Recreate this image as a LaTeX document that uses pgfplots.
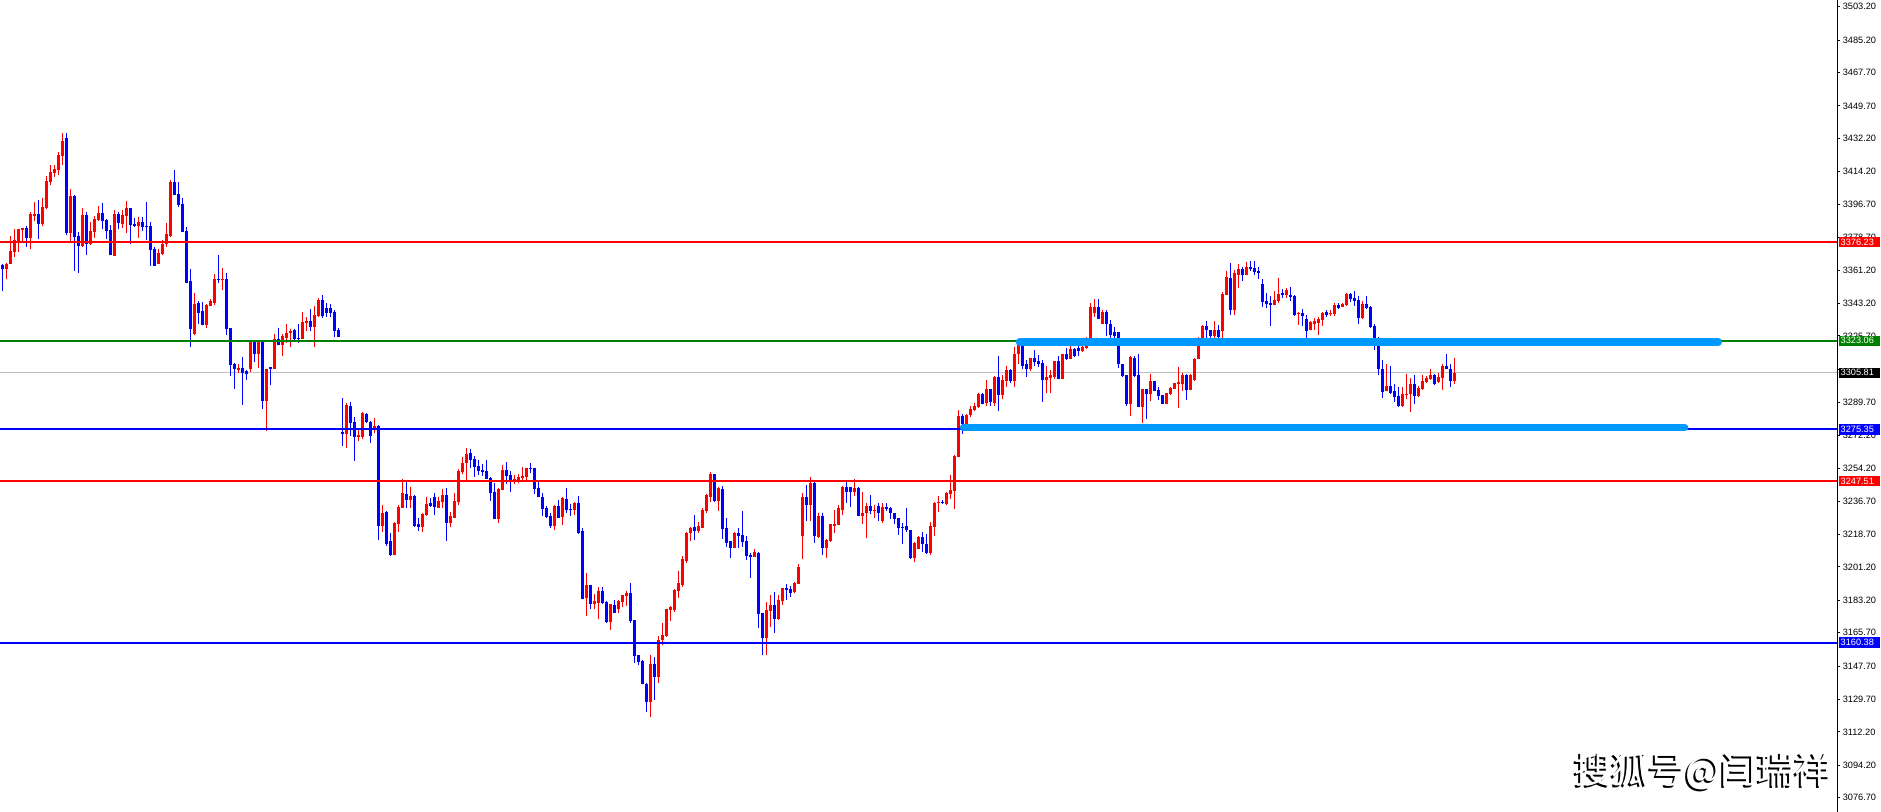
\documentclass[border=0pt]{standalone}
\usepackage{fontspec}
\setmainfont{Liberation Sans}
\newfontfamily\cjk{Noto Sans CJK SC}
\usepackage{pgfplots}
\usepackage{pgfplotstable}
\pgfplotsset{compat=1.18}
\definecolor{cred}{RGB}{255,0,0}
\definecolor{cblue}{RGB}{0,0,255}
\definecolor{cgreen}{RGB}{0,128,0}
\definecolor{cgrey}{RGB}{192,192,192}
\definecolor{lblue}{RGB}{0,153,255}
\newcommand\tickfont{\fontsize{4.6}{5}\selectfont}

\pgfplotstableread{
O H L C
3363.8 3364.7 3349.9 3362.0
3361.7 3365.1 3356.2 3364.7
3364.3 3379.5 3364.3 3371.4
3371.0 3383.2 3368.3 3377.3
3376.4 3383.4 3371.0 3383.4
3382.7 3384.0 3376.4 3383.8
3384.0 3384.9 3373.7 3378.6
3378.6 3392.4 3372.4 3391.3
3390.3 3397.8 3387.7 3391.7
3391.7 3398.9 3377.8 3386.3
3385.9 3400.2 3384.9 3395.1
3394.4 3411.9 3393.9 3409.2
3408.8 3417.6 3407.0 3414.2
3413.7 3417.8 3411.5 3415.6
3415.1 3425.0 3412.6 3423.2
3422.8 3435.1 3417.8 3430.8
3432.4 3435.1 3380.0 3381.3
3381.3 3404.7 3376.4 3401.1
3401.1 3401.6 3360.6 3379.1
3379.5 3381.8 3359.7 3374.2
3374.2 3394.4 3373.7 3390.8
3390.8 3392.6 3369.2 3375.5
3375.1 3387.2 3374.6 3382.2
3381.8 3390.3 3378.6 3388.6
3388.1 3395.7 3387.7 3392.2
3392.2 3397.5 3383.2 3387.7
3388.1 3389.0 3377.7 3382.3
3382.7 3385.4 3369.2 3369.2
3368.8 3393.5 3368.7 3391.3
3391.3 3392.6 3383.2 3386.7
3386.3 3393.5 3384.0 3390.8
3390.4 3398.5 3381.4 3394.4
3394.4 3394.9 3375.1 3385.4
3385.9 3389.5 3384.5 3384.9
3384.9 3389.9 3378.6 3387.0
3387.0 3389.9 3382.2 3384.2
3384.9 3398.0 3377.3 3384.2
3385.1 3387.0 3363.4 3371.9
3372.4 3373.7 3363.4 3363.4
3364.3 3372.4 3364.3 3370.6
3369.7 3377.3 3369.2 3375.1
3375.1 3386.7 3373.7 3380.5
3379.5 3409.7 3379.1 3408.8
3408.8 3415.1 3401.6 3401.6
3402.2 3408.8 3395.3 3396.2
3396.7 3399.8 3381.8 3381.8
3382.2 3384.5 3354.3 3354.4
3355.2 3361.6 3319.7 3329.3
3326.9 3349.0 3326.0 3342.7
3343.6 3344.5 3331.9 3338.2
3339.1 3344.0 3331.4 3331.4
3331.4 3342.7 3330.0 3342.2
3341.7 3345.4 3341.7 3344.5
3343.5 3358.9 3342.6 3356.2
3356.2 3369.2 3354.4 3355.7
3355.7 3362.5 3350.3 3356.6
3356.6 3359.8 3326.4 3329.3
3330.2 3330.2 3304.1 3309.8
3310.4 3311.1 3297.2 3308.0
3307.5 3310.7 3305.7 3308.4
3308.4 3314.3 3288.6 3305.7
3306.8 3307.1 3302.1 3305.0
3308.0 3323.3 3306.2 3323.3
3323.3 3323.3 3311.6 3315.7
3315.7 3323.3 3308.4 3322.4
3322.4 3322.4 3286.4 3290.5
3290.5 3308.0 3274.3 3308.0
3308.9 3308.9 3299.0 3308.0
3308.0 3326.9 3308.0 3324.2
3324.2 3330.2 3320.6 3320.6
3320.6 3326.9 3314.7 3325.5
3324.7 3331.9 3322.0 3327.4
3327.4 3329.2 3319.7 3328.3
3328.7 3329.2 3323.3 3324.2
3324.6 3331.9 3321.9 3323.9
3323.9 3338.6 3323.9 3333.2
3332.7 3335.9 3328.3 3333.8
3333.8 3340.0 3328.2 3330.5
3330.5 3341.7 3319.7 3336.8
3336.3 3346.4 3335.9 3345.3
3344.9 3347.6 3335.4 3336.3
3341.0 3343.6 3335.9 3338.2
3341.0 3342.7 3335.9 3338.1
3338.6 3339.5 3325.1 3328.3
3328.7 3330.2 3325.1 3325.1
3273.7 3292.1 3266.5 3272.7
3272.7 3289.4 3265.5 3288.5
3288.0 3290.3 3271.8 3278.6
3279.1 3282.2 3258.4 3271.4
3271.4 3275.9 3269.1 3272.3
3271.4 3284.9 3270.1 3284.0
3283.6 3284.0 3278.6 3279.1
3279.5 3279.9 3268.2 3271.8
3275.9 3281.7 3273.2 3277.2
3277.2 3277.7 3215.6 3223.3
3223.3 3234.5 3220.1 3230.5
3230.9 3231.3 3212.5 3213.8
3215.1 3219.6 3207.0 3207.5
3207.5 3225.5 3207.5 3224.6
3224.2 3234.5 3220.1 3233.6
3232.7 3248.5 3232.7 3240.8
3240.4 3247.1 3233.1 3237.2
3237.2 3244.0 3232.7 3239.4
3239.5 3239.9 3222.8 3223.3
3224.2 3227.3 3220.6 3222.8
3222.8 3230.0 3220.1 3229.6
3229.1 3238.6 3228.6 3235.0
3235.4 3238.1 3233.6 3234.0
3239.0 3240.8 3229.1 3233.6
3233.2 3239.0 3233.1 3236.7
3236.3 3243.1 3232.7 3239.9
3239.9 3243.5 3215.2 3225.0
3225.0 3230.9 3222.8 3228.6
3227.8 3240.8 3227.3 3236.7
3236.3 3253.8 3234.5 3253.0
3252.1 3260.6 3251.1 3257.4
3257.0 3265.3 3248.0 3262.0
3262.4 3264.7 3254.3 3258.8
3259.3 3261.0 3249.8 3255.2
3255.7 3258.8 3250.7 3253.0
3253.4 3256.5 3250.2 3252.5
3253.0 3258.8 3248.5 3248.5
3248.9 3249.4 3236.8 3240.8
3241.3 3246.6 3226.9 3226.9
3226.9 3243.5 3225.0 3243.1
3242.6 3256.1 3242.6 3253.4
3253.4 3257.7 3245.8 3250.2
3250.7 3252.9 3241.7 3246.7
3246.7 3250.7 3245.7 3248.4
3248.0 3251.2 3246.2 3249.8
3248.9 3254.8 3248.0 3250.2
3249.4 3254.7 3247.1 3254.3
3254.3 3257.0 3251.6 3253.9
3254.3 3254.7 3240.3 3243.1
3243.9 3248.0 3238.6 3238.6
3239.0 3241.2 3228.6 3232.3
3233.1 3234.1 3227.8 3228.2
3228.6 3230.4 3221.9 3223.2
3223.3 3234.5 3221.0 3234.1
3234.1 3237.2 3227.8 3227.8
3228.2 3239.0 3223.7 3238.1
3237.7 3243.5 3230.4 3231.8
3232.3 3234.9 3228.6 3231.8
3231.8 3236.3 3229.1 3235.4
3235.4 3239.4 3218.8 3219.2
3220.5 3222.4 3183.7 3184.1
3184.5 3198.1 3174.6 3191.3
3191.3 3191.3 3178.7 3181.4
3181.4 3186.8 3178.3 3182.8
3181.8 3190.4 3172.9 3188.1
3188.1 3190.4 3181.4 3181.8
3182.3 3182.8 3171.0 3171.5
3171.5 3181.4 3167.0 3181.0
3180.5 3183.2 3176.4 3176.5
3178.3 3183.2 3176.5 3182.8
3182.3 3186.3 3179.6 3185.9
3185.5 3188.1 3180.0 3187.3
3187.3 3192.6 3171.0 3172.0
3172.4 3172.8 3149.4 3153.0
3153.5 3153.5 3148.1 3149.9
3150.3 3150.8 3137.8 3137.8
3138.2 3138.6 3122.9 3128.3
3128.3 3153.5 3120.2 3149.0
3149.0 3152.6 3129.7 3141.8
3141.8 3163.8 3138.6 3162.0
3161.6 3171.1 3158.9 3164.7
3163.8 3178.7 3163.4 3178.3
3177.8 3180.1 3172.0 3179.6
3178.2 3189.5 3176.9 3188.6
3188.2 3199.0 3184.5 3192.6
3191.3 3207.0 3190.4 3205.2
3204.4 3220.1 3203.5 3219.7
3219.6 3222.8 3215.2 3222.3
3222.8 3229.1 3215.6 3220.6
3220.6 3225.5 3219.6 3223.3
3222.4 3233.2 3221.9 3231.8
3231.3 3240.4 3230.5 3239.9
3239.0 3252.5 3236.3 3251.2
3251.2 3251.2 3236.3 3236.8
3236.8 3244.4 3231.4 3243.5
3243.1 3244.8 3216.0 3221.5
3221.9 3227.3 3212.0 3214.3
3215.1 3215.2 3206.1 3211.6
3211.6 3220.1 3211.5 3219.2
3219.2 3222.4 3211.5 3217.9
3218.3 3231.3 3212.0 3214.7
3215.1 3217.8 3204.8 3207.1
3207.5 3208.9 3195.3 3206.6
3206.6 3210.6 3206.6 3209.3
3208.9 3209.3 3168.3 3176.0
3176.1 3176.5 3153.6 3162.6
3162.6 3182.4 3153.6 3177.9
3177.5 3186.0 3168.9 3180.6
3180.6 3187.8 3165.8 3173.0
3173.0 3186.0 3172.5 3183.3
3182.9 3190.0 3180.6 3189.6
3189.6 3191.9 3183.3 3188.7
3189.2 3190.9 3185.1 3187.3
3187.4 3193.2 3186.9 3192.3
3192.0 3202.7 3192.0 3201.3
3217.9 3240.8 3205.3 3239.0
3239.0 3245.3 3226.0 3234.5
3234.5 3249.4 3226.0 3246.2
3246.6 3247.1 3214.2 3217.9
3217.4 3230.4 3216.5 3228.6
3228.7 3230.4 3207.5 3211.5
3211.5 3216.0 3206.1 3215.6
3215.2 3224.2 3214.7 3224.1
3223.3 3231.8 3219.7 3224.2
3223.7 3234.5 3223.7 3232.7
3231.8 3244.8 3229.1 3244.4
3244.4 3247.5 3235.9 3241.3
3244.0 3244.4 3233.6 3241.3
3241.3 3248.5 3239.4 3243.5
3243.9 3244.0 3228.6 3228.7
3228.7 3241.7 3224.2 3230.0
3230.0 3235.9 3216.9 3234.1
3234.1 3239.9 3229.5 3231.3
3231.3 3234.5 3227.3 3231.8
3234.1 3235.4 3226.0 3230.5
3225.9 3235.9 3225.0 3233.6
3233.6 3235.8 3231.4 3232.3
3233.1 3233.6 3226.9 3230.0
3230.4 3230.5 3224.2 3226.8
3227.3 3227.7 3218.3 3222.3
3222.8 3225.0 3213.4 3222.3
3223.3 3233.1 3220.1 3221.0
3221.0 3221.0 3205.7 3206.2
3206.2 3214.7 3203.9 3214.2
3211.1 3217.8 3210.7 3217.4
3217.4 3220.1 3209.3 3213.3
3213.4 3218.8 3208.4 3208.9
3208.9 3225.5 3207.5 3223.3
3222.8 3236.3 3217.8 3235.9
3235.4 3239.4 3230.9 3236.3
3236.1 3237.2 3234.9 3235.4
3235.0 3241.3 3234.5 3240.8
3240.4 3250.7 3237.7 3242.6
3242.2 3261.3 3232.3 3261.0
3260.6 3285.8 3260.2 3282.6
3282.4 3283.4 3273.0 3278.4
3278.4 3283.8 3276.6 3282.9
3282.9 3288.0 3282.0 3286.1
3285.6 3289.7 3285.2 3288.0
3287.4 3295.1 3286.9 3294.2
3294.2 3295.1 3288.8 3288.8
3289.7 3301.8 3288.0 3296.9
3296.9 3297.3 3288.0 3290.1
3289.7 3304.1 3288.0 3303.6
3303.6 3314.8 3285.2 3293.7
3293.7 3304.5 3291.5 3301.8
3301.3 3309.4 3298.2 3307.2
3307.6 3308.1 3300.5 3301.4
3301.4 3319.8 3298.2 3316.2
3315.8 3322.5 3310.4 3320.7
3320.7 3322.5 3307.7 3309.5
3310.4 3312.6 3303.6 3307.7
3307.7 3314.0 3306.7 3313.9
3313.9 3318.0 3309.4 3311.5
3312.2 3315.3 3309.0 3310.4
3311.2 3312.6 3290.1 3302.2
3302.2 3309.4 3295.0 3303.6
3303.2 3307.2 3295.0 3304.5
3303.6 3312.2 3302.4 3312.1
3312.1 3315.0 3302.4 3302.4
3302.4 3316.2 3302.4 3316.2
3316.2 3319.3 3312.6 3313.5
3313.5 3324.7 3313.1 3318.9
3318.9 3319.3 3314.4 3315.0
3319.3 3321.6 3315.0 3317.6
3317.6 3321.6 3317.1 3319.8
3319.4 3325.2 3318.9 3323.9
3323.4 3343.2 3322.5 3341.4
3337.8 3345.4 3336.0 3341.4
3341.4 3345.4 3334.7 3334.7
3332.0 3339.6 3332.0 3338.7
3338.7 3339.6 3325.7 3332.0
3332.4 3334.2 3324.8 3326.1
3327.9 3330.6 3324.8 3325.7
3327.9 3327.9 3308.6 3310.4
3310.8 3310.8 3303.6 3304.1
3304.5 3304.5 3288.0 3288.8
3288.8 3314.8 3282.5 3314.4
3313.9 3315.0 3303.6 3304.1
3304.5 3315.7 3287.4 3287.4
3287.4 3297.3 3278.8 3296.9
3296.9 3296.9 3281.1 3294.6
3294.6 3305.0 3290.6 3301.4
3301.4 3301.4 3295.9 3296.0
3296.4 3298.2 3291.4 3293.3
3293.7 3293.7 3288.8 3289.2
3289.2 3295.1 3288.8 3295.0
3294.6 3298.2 3294.1 3297.7
3297.3 3300.5 3297.3 3300.4
3300.0 3308.7 3287.0 3300.5
3299.6 3305.8 3296.0 3304.9
3304.9 3305.4 3291.0 3296.4
3296.4 3305.0 3296.4 3304.9
3301.8 3314.0 3301.4 3313.5
3313.0 3325.2 3313.0 3321.2
3320.7 3331.5 3320.7 3331.1
3331.1 3333.8 3324.3 3328.8
3328.8 3328.8 3324.3 3325.7
3325.7 3333.8 3324.0 3328.8
3328.8 3331.5 3324.3 3325.2
3328.4 3349.5 3324.3 3348.2
3347.7 3360.7 3347.7 3357.6
3357.1 3364.8 3336.9 3339.6
3339.6 3361.2 3336.9 3359.4
3358.5 3364.4 3351.8 3361.7
3361.7 3363.0 3355.4 3358.5
3358.5 3365.3 3358.5 3363.0
3363.0 3366.2 3360.8 3361.7
3362.1 3366.2 3358.5 3360.3
3360.7 3363.0 3356.3 3359.8
3353.6 3356.3 3341.4 3344.1
3344.6 3349.1 3340.5 3342.7
3343.6 3347.2 3331.1 3342.3
3342.3 3349.9 3342.3 3345.0
3344.6 3357.1 3343.7 3348.2
3348.6 3350.8 3346.3 3347.7
3347.7 3351.8 3346.4 3350.4
3347.7 3352.2 3344.6 3346.8
3347.2 3347.7 3336.4 3336.9
3337.4 3338.7 3331.5 3338.2
3338.2 3340.0 3331.0 3336.4
3334.7 3336.9 3324.8 3328.4
3328.8 3333.7 3328.8 3333.3
3332.4 3335.6 3328.8 3333.8
3332.8 3336.0 3326.1 3334.7
3334.2 3338.7 3331.1 3338.3
3338.7 3339.6 3336.0 3336.9
3337.4 3339.6 3336.5 3338.3
3337.4 3343.6 3336.5 3342.3
3342.3 3343.6 3340.1 3340.5
3341.4 3343.2 3341.4 3342.8
3342.3 3349.0 3341.9 3348.1
3348.1 3349.1 3344.1 3345.5
3346.3 3349.9 3341.9 3344.6
3345.0 3347.3 3331.9 3335.6
3335.1 3344.6 3334.7 3342.8
3342.8 3347.2 3340.1 3341.0
3341.4 3341.9 3330.2 3330.6
3331.0 3332.0 3318.0 3320.7
3320.7 3325.2 3304.5 3307.7
3308.1 3312.6 3292.3 3295.5
3296.0 3310.3 3296.0 3298.6
3298.6 3309.4 3294.2 3295.1
3295.9 3299.6 3290.1 3292.8
3293.3 3298.2 3287.4 3287.9
3287.9 3298.2 3287.4 3294.2
3293.7 3305.0 3291.5 3294.6
3294.2 3303.2 3284.7 3299.6
3299.6 3304.5 3288.8 3293.2
3293.2 3298.6 3292.8 3297.7
3296.9 3304.5 3296.8 3301.3
3300.9 3304.0 3300.5 3303.1
3302.3 3307.7 3302.2 3304.5
3304.5 3305.0 3299.1 3300.0
3300.9 3305.9 3300.5 3303.6
3303.1 3310.8 3296.8 3309.4
3309.4 3315.8 3307.7 3308.1
3308.1 3310.8 3298.2 3301.3
3301.4 3313.9 3299.6 3305.9
}\candles

\begin{document}
\begin{tikzpicture}
\begin{axis}[
  at={(0,0)}, anchor=south west,
  scale only axis, width=918.5pt, height=406pt,
  xmin=-0.667, xmax=458.58, ymin=3069.06, ymax=3506.81,
  axis x line=none, axis y line*=right,
  axis line style={-, line width=0.5pt, black},
  clip=false,
  tick align=outside, major tick length=1.5pt,
  tick style={line width=0.5pt, black},
  ytick={3076.7,3094.2,3112.2,3129.7,3147.7,3165.7,3183.2,3201.2,3218.7,3236.7,3254.2,3272.2,3289.7,3307.7,3325.7,3343.2,3361.2,3378.7,3396.7,3414.2,3432.2,3449.7,3467.7,3485.2,3503.2},
  yticklabels={3076.70,3094.20,3112.20,3129.70,3147.70,3165.70,3183.20,3201.20,3218.70,3236.70,3254.20,3272.20,3289.70,{},3325.70,3343.20,3361.20,3378.70,3396.70,3414.20,3432.20,3449.70,3467.70,3485.20,3503.20},
  yticklabel style={font=\tickfont, anchor=west, inner sep=0pt, xshift=1.2pt},
  candle/.style={only marks, mark=*, mark size=0pt, mark options={draw=none, fill=none}, forget plot},
]
% current price line
\addplot[cgrey, line width=0.5pt, forget plot] coordinates {(-0.667,3305.81) (458.58,3305.81)};
% wicks up
\addplot[candle, cred,
  restrict expr to domain={\thisrow{C}-\thisrow{O}}{0:1000},
  error bars/.cd, y dir=plus, y explicit, error mark=none,
  error bar style={line width=0.5pt, draw=cred}]
  table[x expr=\coordindex, y=L, y error plus expr={\thisrow{H}-\thisrow{L}}] {\candles};
% wicks down
\addplot[candle, cblue,
  restrict expr to domain={\thisrow{C}-\thisrow{O}}{-1000:-0.001},
  error bars/.cd, y dir=plus, y explicit, error mark=none,
  error bar style={line width=0.5pt, draw=cblue}]
  table[x expr=\coordindex, y=L, y error plus expr={\thisrow{H}-\thisrow{L}}] {\candles};
% bodies up
\addplot[candle, cred,
  restrict expr to domain={\thisrow{C}-\thisrow{O}}{0:1000},
  error bars/.cd, y dir=plus, y explicit, error mark=none,
  error bar style={line width=1.5pt, draw=cred}]
  table[x expr=\coordindex, y=O, y error plus expr={max(\thisrow{C}-\thisrow{O},0.6)}] {\candles};
% bodies down
\addplot[candle, cblue,
  restrict expr to domain={\thisrow{C}-\thisrow{O}}{-1000:-0.001},
  error bars/.cd, y dir=plus, y explicit, error mark=none,
  error bar style={line width=1.5pt, draw=cblue}]
  table[x expr=\coordindex, y=C, y error plus expr={max(\thisrow{O}-\thisrow{C},0.6)}] {\candles};
% horizontal levels
\addplot[cred, line width=1pt, forget plot] coordinates {(-0.667,3376.23) (458.58,3376.23)};
\addplot[cgreen, line width=1pt, forget plot] coordinates {(-0.667,3323.06) (458.58,3323.06)};
\addplot[cblue, line width=1pt, forget plot] coordinates {(-0.667,3275.35) (458.58,3275.35)};
\addplot[cred, line width=1pt, forget plot] coordinates {(-0.667,3247.51) (458.58,3247.51)};
\addplot[cblue, line width=1pt, forget plot] coordinates {(-0.667,3160.38) (458.58,3160.38)};
% thick zone bars
\addplot[lblue, line width=3.7pt, line cap=round, forget plot] coordinates {(254.2,3322.4) (428.9,3322.4)};
\addplot[lblue, line width=3.7pt, line cap=round, forget plot] coordinates {(240.2,3276.2) (420.5,3276.2)};
\coordinate (b1) at (axis cs:458.58,3376.23);
\coordinate (b2) at (axis cs:458.58,3323.06);
\coordinate (b3) at (axis cs:458.58,3305.81);
\coordinate (b4) at (axis cs:458.58,3275.35);
\coordinate (b5) at (axis cs:458.58,3247.51);
\coordinate (b6) at (axis cs:458.58,3160.38);
\coordinate (wm) at (axis cs:457.3,3091.2);
\end{axis}
\tikzset{pbox/.style={anchor=west, xshift=0.9pt, inner xsep=0.75pt, inner ysep=0pt,
  minimum height=5.2pt, text width=19pt, align=left, text=white, font=\tickfont}}
\node[pbox, fill=cred] at (b1) {3376.23};
\node[pbox, fill=cgreen] at (b2) {3323.06};
\node[pbox, fill=black] at (b3) {3305.81};
\node[pbox, fill=cblue] at (b4) {3275.35};
\node[pbox, fill=cred] at (b5) {3247.51};
\node[pbox, fill=cblue] at (b6) {3160.38};
\node[anchor=east, inner sep=0pt, text=black, font=\cjk\fontsize{18.5}{18.5}\selectfont, xshift=-0.9pt, yshift=-0.9pt] at (wm) {搜狐号@闫瑞祥};
\node[anchor=east, inner sep=0pt, text=white, font=\cjk\fontsize{18.5}{18.5}\selectfont] at (wm) {搜狐号@闫瑞祥};
\pgfresetboundingbox
\path[use as bounding box] (0,0) rectangle (940.5pt,406pt);
\end{tikzpicture}
\end{document}
